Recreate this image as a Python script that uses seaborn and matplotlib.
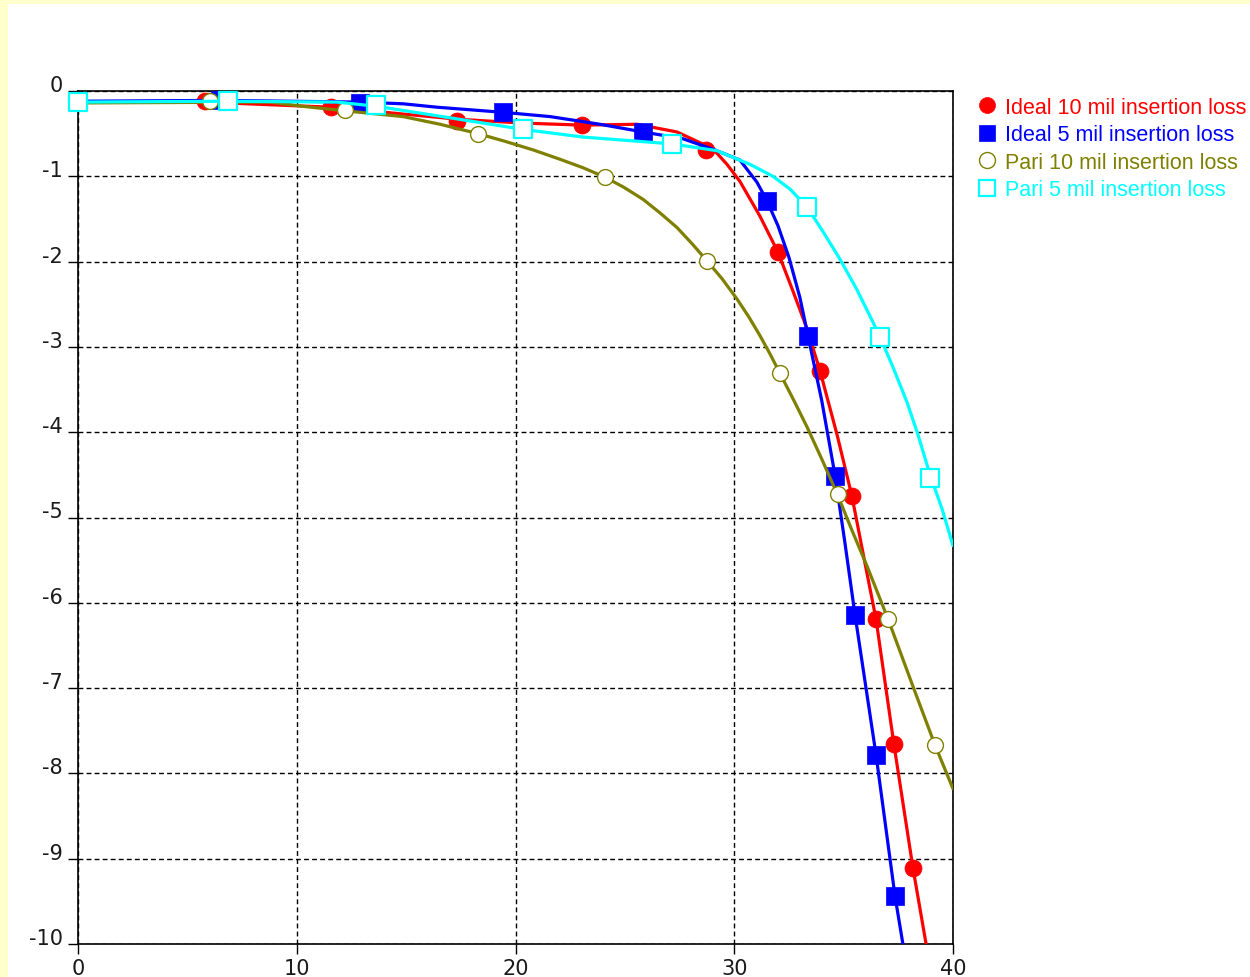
import matplotlib
matplotlib.use("Agg")
import matplotlib.pyplot as plt
import seaborn as sns
from matplotlib.lines import Line2D
from matplotlib.patches import Rectangle

# ---------------- data ----------------
labels = ["Ideal 10 mil insertion loss", "Ideal 5 mil insertion loss",
          "Pari 10 mil insertion loss", "Pari 5 mil insertion loss"]
colors = ["#FF0000", "#0000FF", "#808000", "#00FFFF"]

x_ticks = [0, 10, 20, 30, 40]
y_ticks = [0, -1, -2, -3, -4, -5, -6, -7, -8, -9, -10]

# Ideal 10 mil: curve and marker points
ideal10_line_x = [0, 5.81, 11.57, 17.33, 20.21, 23.04, 25.55, 27.38, 28.30, 29.03, 29.67,
                  30.26, 31.18, 32.0, 32.69, 33.33, 33.92, 34.70, 35.38, 35.98, 36.48,
                  37.30, 38.17, 38.77]
ideal10_line_y = [-0.13, -0.13, -0.19, -0.33, -0.375, -0.40, -0.39, -0.48, -0.59, -0.68, -0.86,
                  -1.06, -1.47, -1.89, -2.35, -2.79, -3.28, -4.03, -4.75, -5.54, -6.19,
                  -7.66, -9.11, -10.0]
ideal10_mark_x = [0, 5.81, 11.57, 17.33, 23.04, 28.71, 32.0, 33.92, 35.38, 36.48, 37.30, 38.17]
ideal10_mark_y = [-0.13, -0.12, -0.19, -0.35, -0.40, -0.69, -1.89, -3.28, -4.75, -6.19, -7.66, -9.11]

# Ideal 5 mil
ideal5_line_x = [0, 6.49, 12.89, 14.86, 16.41, 19.43, 21.58, 23.86, 25.83, 27.66, 29.21,
                 30.26, 31.04, 31.50, 32.0, 32.5, 33.0, 33.37, 34.0, 34.61, 35.05,
                 35.52, 36.48, 37.35, 37.71]
ideal5_line_y = [-0.12, -0.11, -0.13, -0.15, -0.19, -0.25, -0.30, -0.39, -0.48, -0.56, -0.70,
                 -0.81, -1.07, -1.29, -1.58, -1.95, -2.42, -2.87, -3.63, -4.51, -5.28,
                 -6.14, -7.78, -9.44, -10.0]
ideal5_mark_x = [0, 6.49, 12.89, 19.43, 25.83, 31.50, 33.37, 34.61, 35.52, 36.48, 37.35]
ideal5_mark_y = [-0.12, -0.11, -0.14, -0.25, -0.48, -1.29, -2.87, -4.51, -6.14, -7.78, -9.44]

# Pari 10 mil
pari10_line_x = [0, 8.78, 10.29, 12.11, 14.86, 16.55, 18.29, 19.52, 20.80, 22.03, 23.09, 24.09,
                 24.96, 25.83, 26.61, 27.38, 28.07, 28.75, 29.44, 30.13, 30.67, 31.18, 31.63,
                 32.09, 32.73, 33.33, 34.01, 34.70, 35.38, 36.07, 37.03, 38.17, 39.18, 40.0]
pari10_line_y = [-0.14, -0.13, -0.18, -0.23, -0.30, -0.39, -0.50, -0.59, -0.69, -0.80, -0.90, -1.01,
                 -1.13, -1.27, -1.43, -1.60, -1.79, -1.99, -2.20, -2.44, -2.65, -2.87, -3.08,
                 -3.31, -3.63, -3.94, -4.32, -4.72, -5.15, -5.57, -6.19, -6.98, -7.67, -8.18]
pari10_mark_x = [0, 6.03, 12.21, 18.29, 24.09, 28.75, 32.09, 34.72, 37.03, 39.18]
pari10_mark_y = [-0.14, -0.12, -0.22, -0.50, -1.01, -1.99, -3.31, -4.72, -6.19, -7.67]

# Pari 5 mil
pari5_line_x = [0, 6.86, 11.84, 13.67, 16.41, 20.34, 23.09, 27.15, 29.21, 30.72, 31.77, 32.55,
                33.33, 34.06, 34.83, 35.61, 36.34, 36.66, 37.26, 37.90, 38.40, 38.95, 39.50, 40.0]
pari5_line_y = [-0.13, -0.12, -0.13, -0.18, -0.29, -0.45, -0.54, -0.62, -0.70, -0.86, -1.00, -1.15,
                -1.36, -1.65, -1.97, -2.33, -2.71, -2.88, -3.24, -3.65, -4.03, -4.50, -4.90, -5.33]
pari5_mark_x = [0, 6.86, 13.63, 20.34, 27.15, 33.33, 36.66, 38.95]
pari5_mark_y = [-0.13, -0.12, -0.16, -0.45, -0.62, -1.36, -2.88, -4.54]

series = [
    (ideal10_line_x, ideal10_line_y, ideal10_mark_x, ideal10_mark_y),
    (ideal5_line_x, ideal5_line_y, ideal5_mark_x, ideal5_mark_y),
    (pari10_line_x, pari10_line_y, pari10_mark_x, pari10_mark_y),
    (pari5_line_x, pari5_line_y, pari5_mark_x, pari5_mark_y),
]
marker_shapes = ["o", "s", "o", "s"]
marker_faces = ["#FF0000", "#0000FF", "white", "white"]
marker_edges = ["#FF0000", "#0000FF", "#808000", "#00FFFF"]
marker_ew = [0.5, 0.5, 1.0, 1.6]
marker_sizes = [150, 170, 130, 170]

# ---------------- figure ----------------
sns.set_theme(style="white")
plt.rcParams["font.family"] = ["DejaVu Sans"]

W, H = 1250, 978
fig = plt.figure(figsize=(W / 100, H / 100), dpi=100, facecolor="#FFFFCC")
fig.patches.append(Rectangle((8 / W, 0), 1 - 8 / W, 1 - 5 / H, transform=fig.transFigure,
                             facecolor="white", edgecolor="none", zorder=-10))

ax = fig.add_axes([78 / W, 1 - 945 / H, 875 / W, 853 / H])
ax.set_zorder(1)
ax.set_facecolor("white")

for i, (lx, ly, mx, my) in enumerate(series):
    sns.lineplot(x=lx, y=ly, ax=ax, color=colors[i], lw=2.3, sort=False,
                 estimator=None, legend=False, zorder=3 + i)
    sns.scatterplot(x=mx, y=my, ax=ax, marker=marker_shapes[i], s=marker_sizes[i],
                    facecolor=marker_faces[i], edgecolor=marker_edges[i],
                    linewidth=marker_ew[i], legend=False, zorder=3.5 + i)
for coll in ax.collections:
    coll.set_clip_on(False)
for ln in ax.lines:
    ln.set_solid_joinstyle("round")

ax.set_xlim(0, 40)
ax.set_ylim(-10, 0)
ax.set_xticks(x_ticks)
ax.set_yticks(y_ticks)
ax.set_xticklabels([str(v) for v in x_ticks], fontsize=15)
ax.set_yticklabels([str(v) for v in y_ticks], fontsize=15)
ax.grid(True, color="black", linestyle=(0, (3.5, 2.3)), linewidth=1.0)
ax.set_axisbelow(True)
for s in ax.spines.values():
    s.set_visible(True)
    s.set_color("black")
    s.set_linewidth(1.2)
ax.tick_params(axis="both", which="major", direction="out", length=7, width=1.0,
               color="black", labelcolor="#1a1a1a",
               left=True, bottom=True)
ax.tick_params(axis="x", pad=2.8)
ax.tick_params(axis="y", pad=4.0)
for t in ax.get_yticklabels():
    t.set_verticalalignment("baseline")
ax.set_xlabel("")
ax.set_ylabel("")

# legend (markers only, coloured text)
handles = [Line2D([], [], linestyle="none", marker=marker_shapes[i], markersize=11.5,
                  markerfacecolor=marker_faces[i], markeredgecolor=marker_edges[i],
                  markeredgewidth=marker_ew[i]) for i in range(4)]
fig.legend(handles, labels, loc="upper left", bbox_to_anchor=(978 / W, 1 - 98 / H),
           frameon=False, prop=dict(family="Liberation Sans", size=15.5),
           labelcolor=colors, handlelength=0.8, handletextpad=0.45,
           labelspacing=0.3, borderpad=0, borderaxespad=0)

fig.savefig("out.png", dpi=100, facecolor=fig.get_facecolor())
